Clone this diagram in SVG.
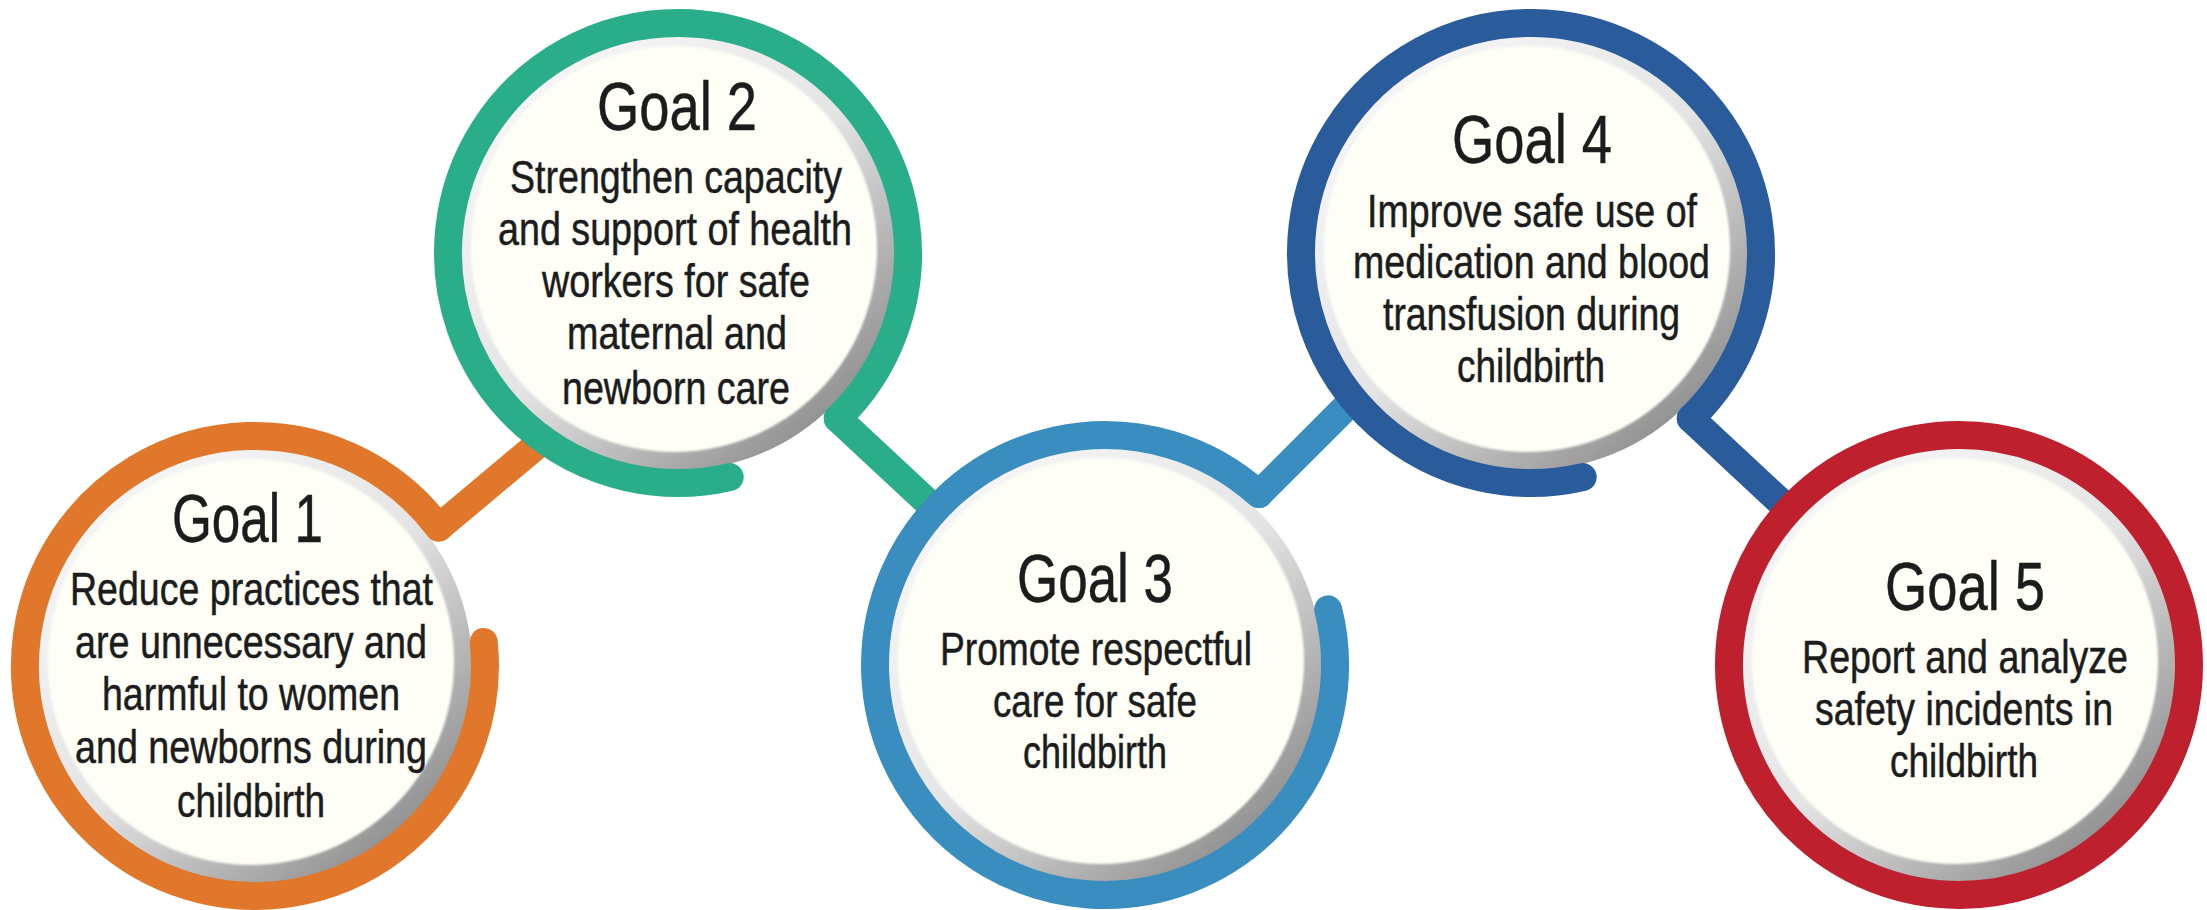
<svg xmlns="http://www.w3.org/2000/svg" width="2207" height="910" viewBox="0 0 2207 910">
<style>
  .ring{fill:none;stroke-width:28;stroke-linecap:round;stroke-linejoin:round}
  .conn{fill:none;stroke-width:28;stroke-linecap:round}
  .band{fill:url(#bandGrad)}
  .face{fill:#fefef7;filter:url(#soft)}
  .t{font-family:"Liberation Sans",Arial,Helvetica,sans-serif;fill:#1c1c1c;stroke:#1c1c1c;stroke-width:0.5}
  .title{font-size:68px}
  .body{font-size:46px}
  .orange{stroke:#e0772a}
  .green{stroke:#2aae8a}
  .lblue{stroke:#3a8dbf}
  .dblue{stroke:#2a5c9c}
  .red{stroke:#be202e}
</style>
<defs>
  <linearGradient id="bandGrad" x1="0.15" y1="0.1" x2="0.85" y2="0.9">
    <stop offset="0" stop-color="#f6f6f6"/>
    <stop offset="0.5" stop-color="#e4e4e4"/>
    <stop offset="1" stop-color="#8f8f8f"/>
  </linearGradient>
  <filter id="soft" x="-5%" y="-5%" width="110%" height="110%">
    <feGaussianBlur stdDeviation="1.2"/>
  </filter>
</defs>
<rect width="2207" height="910" fill="#ffffff"/>

<g id="connectors">
  <path class="conn orange" d="M438.7 527.6 L553.6 431.2"/>
  <path class="conn green" d="M837.8 418.4 L943.8 517.3"/>
  <path class="conn lblue" d="M1258.9 494.1 L1361.5 391.5"/>
  <path class="conn dblue" d="M1690.8 418.4 L1796.8 517.3"/>
</g>

<g id="goal1">
  <circle class="band" cx="255" cy="666" r="217"/>
  <path class="ring orange" d="M483.7 642 A230 230 0 1 1 438.7 527.6"/>
  <circle class="face" cx="251" cy="662" r="203"/>
  <text class="t title" x="172" y="542" textLength="151" lengthAdjust="spacingAndGlyphs">Goal 1</text>
  <text class="t body" x="70" y="605" textLength="363" lengthAdjust="spacingAndGlyphs">Reduce practices that</text>
  <text class="t body" x="75" y="657.5" textLength="352" lengthAdjust="spacingAndGlyphs">are unnecessary and</text>
  <text class="t body" x="102" y="710" textLength="298" lengthAdjust="spacingAndGlyphs">harmful to women</text>
  <text class="t body" x="75" y="762.5" textLength="352" lengthAdjust="spacingAndGlyphs">and newborns during</text>
  <text class="t body" x="177" y="817" textLength="148" lengthAdjust="spacingAndGlyphs">childbirth</text>
</g>

<g id="goal2">
  <circle class="band" cx="678" cy="253" r="217"/>
  <path class="ring green" d="M729.7 477.1 A230 230 0 1 1 837.8 418.4"/>
  <circle class="face" cx="674" cy="249" r="203"/>
  <text class="t title" x="597" y="130" textLength="160" lengthAdjust="spacingAndGlyphs">Goal 2</text>
  <text class="t body" x="510" y="193" textLength="332" lengthAdjust="spacingAndGlyphs">Strengthen capacity</text>
  <text class="t body" x="498" y="245" textLength="354" lengthAdjust="spacingAndGlyphs">and support of health</text>
  <text class="t body" x="542" y="297" textLength="268" lengthAdjust="spacingAndGlyphs">workers for safe</text>
  <text class="t body" x="567" y="349" textLength="220" lengthAdjust="spacingAndGlyphs">maternal and</text>
  <text class="t body" x="562" y="404" textLength="228" lengthAdjust="spacingAndGlyphs">newborn care</text>
</g>

<g id="goal3">
  <circle class="band" cx="1105" cy="665" r="217"/>
  <path class="ring lblue" d="M1328.2 609.4 A230 230 0 1 1 1258.9 494.1"/>
  <circle class="face" cx="1101" cy="661" r="203"/>
  <text class="t title" x="1017" y="602" textLength="156" lengthAdjust="spacingAndGlyphs">Goal 3</text>
  <text class="t body" x="940" y="665" textLength="312" lengthAdjust="spacingAndGlyphs">Promote respectful</text>
  <text class="t body" x="993" y="717" textLength="204" lengthAdjust="spacingAndGlyphs">care for safe</text>
  <text class="t body" x="1023" y="768" textLength="144" lengthAdjust="spacingAndGlyphs">childbirth</text>
</g>

<g id="goal4">
  <circle class="band" cx="1531" cy="253" r="217"/>
  <path class="ring dblue" d="M1582.7 477.1 A230 230 0 1 1 1690.8 418.4"/>
  <circle class="face" cx="1527" cy="249" r="203"/>
  <text class="t title" x="1452" y="163" textLength="160" lengthAdjust="spacingAndGlyphs">Goal 4</text>
  <text class="t body" x="1367" y="227" textLength="330" lengthAdjust="spacingAndGlyphs">Improve safe use of</text>
  <text class="t body" x="1353" y="278" textLength="357" lengthAdjust="spacingAndGlyphs">medication and blood</text>
  <text class="t body" x="1383" y="330" textLength="297" lengthAdjust="spacingAndGlyphs">transfusion during</text>
  <text class="t body" x="1457" y="382" textLength="148" lengthAdjust="spacingAndGlyphs">childbirth</text>
</g>

<g id="goal5">
  <circle class="band" cx="1959" cy="665" r="217"/>
  <circle class="ring red" cx="1959" cy="665" r="230"/>
  <circle class="face" cx="1955" cy="661" r="203"/>
  <text class="t title" x="1885" y="610" textLength="160" lengthAdjust="spacingAndGlyphs">Goal 5</text>
  <text class="t body" x="1802" y="673" textLength="326" lengthAdjust="spacingAndGlyphs">Report and analyze</text>
  <text class="t body" x="1815" y="725" textLength="298" lengthAdjust="spacingAndGlyphs">safety incidents in</text>
  <text class="t body" x="1890" y="777" textLength="148" lengthAdjust="spacingAndGlyphs">childbirth</text>
</g>
</svg>
